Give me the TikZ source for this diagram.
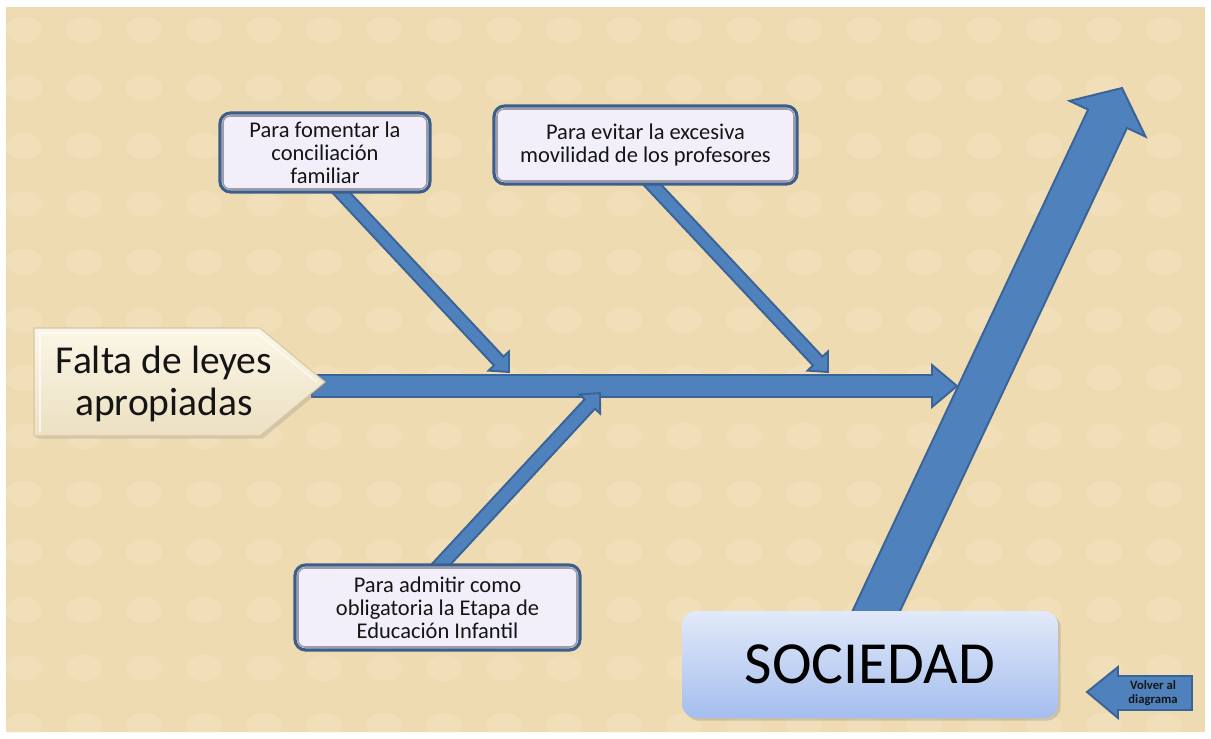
\documentclass[tikz,border=0pt]{standalone}
\usepackage{fontspec}
\setmainfont{Carlito}
\usetikzlibrary{calc,shadows}

\definecolor{paper}{HTML}{EEDBB2}
\definecolor{paperlight}{HTML}{F6E9CB}
\definecolor{arrowfill}{HTML}{4F81BD}
\definecolor{arrowline}{HTML}{3A6398}
\definecolor{rimblue}{HTML}{3D5E8B}
\definecolor{boxfill}{HTML}{F2EFFA}
\definecolor{rimgray}{HTML}{9D9DA8}
\definecolor{socitop}{HTML}{E2E9F9}
\definecolor{socibot}{HTML}{A4BEEE}
\definecolor{penttop}{HTML}{FBF6E6}
\definecolor{pentbot}{HTML}{ECE0C2}
\definecolor{pentline}{HTML}{D6C7A3}
\definecolor{inktext}{HTML}{151515}

% block arrow: tail, tip, shaft half width, head half width, head length
\newcommand\blockarrow[5]{%
  \coordinate (#1h) at ($(#2)!#5!(#1)$);
  \draw[arrowbody]
    ($(#1)!#3!90:(#2)$) -- ($(#1h)!#3!90:(#2)$) -- ($(#1h)!#4!90:(#2)$) --
    (#2) --
    ($(#1h)!#4!-90:(#2)$) -- ($(#1h)!#3!-90:(#2)$) -- ($(#1)!#3!-90:(#2)$) -- cycle;
}

\begin{document}
\begin{tikzpicture}[x=0.02cm,y=-0.02cm,
  arrowbody/.style={fill=arrowfill, draw=arrowline, line width=1.1pt, line join=miter},
  reasonbox/.style={rectangle, rounded corners=6pt, draw=rimblue, line width=1.8pt,
    fill=boxfill, align=center, inner sep=0pt, text=inktext,
    font=\fontsize{12.8}{13.2}\selectfont},
  innerrim/.style={draw=rimgray, line width=0.9pt, rounded corners=4pt},
  pentface/.style={top color=penttop, bottom color=pentbot, draw=pentline, line width=0.6pt},
]
\useasboundingbox (0,0) rectangle (1211,738);
\fill[white] (0,0) rectangle (1211,738);

% textured paper background
\fill[paper] (6,7) rectangle (1205,732);
\begin{scope}
  \clip (6,7) rectangle (1205,732);
  \foreach \i in {0,...,20}{
    \foreach \j in {0,...,12}{
      \fill[paperlight, opacity=0.3] (\i*60+24,\j*58+30) ellipse [x radius=0.36cm, y radius=0.26cm];
    }
  }
\end{scope}

% anchor points of the arrows
\coordinate (mainA) at (312,386);
\coordinate (mainB) at (957,386);
\coordinate (bigA)  at (857,652);
\coordinate (bigB)  at (1122,88);
\coordinate (oneA)  at (335,186);
\coordinate (oneB)  at (509,372);
\coordinate (twoA)  at (646,178);
\coordinate (twoB)  at (828,372);
\coordinate (threeA) at (434,572);
\coordinate (threeB) at (600,393);

% big arrow towards the effect
\blockarrow{bigA}{bigB}{0.43cm}{0.84cm}{0.68cm}

% main spine
\blockarrow{mainA}{mainB}{0.22cm}{0.42cm}{0.5cm}

% branches
\blockarrow{oneA}{oneB}{0.13cm}{0.28cm}{0.3cm}
\blockarrow{twoA}{twoB}{0.13cm}{0.28cm}{0.3cm}
\blockarrow{threeA}{threeB}{0.14cm}{0.28cm}{0.3cm}

% cause label
\shade[pentface, drop shadow={opacity=0.25, shadow xshift=1.5pt, shadow yshift=-1.5pt}]
  (34,328) -- (260,328) -- (325,382) -- (260,436) -- (34,436) -- cycle;
\draw[white, opacity=0.6, line width=1pt] (40,432) -- (40,333) -- (257,333) -- (317,382);
\node[align=center, text=inktext, font=\fontsize{22.5}{24}\selectfont] (causa) at (164,384)
  {Falta de leyes\\apropiadas};

% reason boxes
\node[reasonbox, minimum width=4.2cm, minimum height=1.58cm] (b1) at (325,152.5)
  {Para fomentar la\\conciliación\\familiar};
\node[reasonbox, minimum width=6.06cm, minimum height=1.56cm] (b2) at (645.5,145)
  {Para evitar la excesiva\\movilidad de los profesores};
\node[reasonbox, minimum width=5.7cm, minimum height=1.7cm] (b3) at (437.5,607.5)
  {Para admitir como\\obligatoria la Etapa de\\Educación Infantil};
\foreach \b in {b1,b2,b3}{
  \draw[innerrim] ([shift={(2.6pt,-2.6pt)}]\b.north west) rectangle ([shift={(-2.6pt,2.6pt)}]\b.south east);
}

% effect box
\node[rectangle, rounded corners=8pt, top color=socitop, bottom color=socibot,
      minimum width=7.52cm, minimum height=2.14cm, text=black,
      font=\fontsize{34}{36}\selectfont,
      drop shadow={opacity=0.3, shadow xshift=1.5pt, shadow yshift=-1.5pt}]
  (sociedad) at (870,664.5) {SOCIEDAD};

% back button
\draw[arrowbody] (1087,692) -- (1118,667) -- (1118,676) -- (1192,676) -- (1192,710)
  -- (1118,710) -- (1118,718) -- cycle;
\node[align=center, text=inktext, font=\fontsize{7.2}{8}\selectfont\bfseries] (volver)
  at (1153,693) {Volver al\\diagrama};
\end{tikzpicture}
\end{document}
